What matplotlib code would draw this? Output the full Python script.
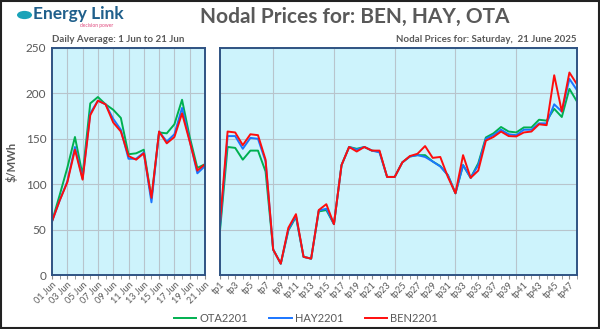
import matplotlib
matplotlib.use("Agg")
import matplotlib.pyplot as plt
from matplotlib.patches import Rectangle, Circle

plt.rcParams['font.family'] = ['Lato', 'DejaVu Sans']

# daily averages, 1 Jun to 21 Jun
days = ["%02d Jun" % d for d in range(1, 22)]
ota_daily = [59, 88, 118, 152, 110, 189, 196, 188, 182, 173, 133, 134, 138, 84, 157, 156, 166, 193, 152, 118, 122]
hay_daily = [59, 82, 103, 141, 106, 178, 192, 188, 172, 160, 128, 128, 135, 80, 158, 147, 155, 184, 148, 112, 120]
ben_daily = [59, 82, 102, 138, 105, 176, 192, 188, 168, 158, 131, 127, 134, 85, 158, 145, 152, 178, 147, 115, 122]

# trading periods, 21 June 2025
periods = ["tp%d" % i for i in range(1, 49)]
ota_tp = [49, 141, 140, 127, 137, 137, 114, 28, 12.5, 49, 64, 20, 18, 70, 71.5, 56, 121, 141, 139, 141, 137, 136, 108, 108,
          124, 130.5, 132, 132, 125, 120, 110, 90, 121, 107, 123, 151.5, 156, 163, 158, 157, 162.5, 162.5, 171, 170,
          183, 174, 205, 191]
hay_tp = [53, 153, 153, 139, 151, 150, 125, 28, 12.5, 50, 65, 20, 18, 71, 73, 56, 121, 141, 138, 141, 137, 135, 108, 108,
          124, 130.5, 132, 130, 125, 119.5, 110, 90, 121, 107, 121, 150, 154, 160, 155, 154, 160, 160, 167, 167,
          188, 180, 216, 203.5]
ben_tp = [57, 158, 157, 143, 155, 154, 127, 28, 12.5, 52, 67, 20, 18, 71.5, 78, 56, 121, 141, 136, 141, 137, 137, 108, 108,
          124, 131, 133.5, 142, 129, 130, 108, 90, 132, 107, 115, 148, 152, 158, 153, 152.6, 157, 158, 166, 165,
          220, 180, 223, 210]

names = ["OTA2201", "HAY2201", "BEN2201"]
colors = ["#00b050", "#1a75ff", "#ff0d0d"]
grey = "#595959"

fig = plt.figure(figsize=(6.0, 3.29), dpi=100)
W, H = 600.0, 329.0


def box(x0, x1, y0, y1):
    return [x0 / W, 1 - y1 / H, (x1 - x0) / W, (y1 - y0) / H]


ax1 = fig.add_axes(box(52, 205, 48, 275))
ax2 = fig.add_axes(box(220, 577, 48, 275))

for ax in (ax1, ax2):
    ax.set_facecolor("#cdf3fc")
    ax.set_ylim(0, 250)
    ax.set_yticks(range(0, 251, 50))
    ax.grid(True, color="#b8c4cc", linewidth=0.8)
    ax.set_axisbelow(True)
    for s in ax.spines.values():
        s.set_color("#2f5383")
        s.set_linewidth(1.4)
    ax.tick_params(axis="x", labelsize=6.5, labelcolor=grey, colors="#8c8c8c", length=3, pad=1)
    ax.tick_params(axis="y", labelsize=8.5, labelcolor=grey, length=0, pad=4)

x1 = list(range(len(days)))
for vals, c in zip([ota_daily, hay_daily, ben_daily], colors):
    ax1.plot(x1, vals, color=c, linewidth=1.4)
ax1.set_xlim(0, len(days) - 1)
ax1.set_xticks(x1, minor=True)
ax1.set_xticks(x1[::2])
ax1.set_xticklabels(days[::2], rotation=45, ha="right", rotation_mode="anchor")
ax1.tick_params(axis="x", which="minor", length=3, colors="#8c8c8c")
ax1.grid(False, axis="x")
for xv in x1[2::2]:
    ax1.axvline(xv, color="#b8c4cc", linewidth=0.8, zorder=0.5)
ax1.set_ylabel("$/MWh", color=grey, fontsize=8, fontweight="bold", labelpad=6)

x2 = list(range(len(periods)))
lines = []
for vals, c, n in zip([ota_tp, hay_tp, ben_tp], colors, names):
    ln, = ax2.plot(x2, vals, color=c, linewidth=1.4, label=n)
    lines.append(ln)
ax2.set_xlim(0, len(periods) - 1)
ax2.set_xticks(x2, minor=True)
ax2.set_xticks(x2[::2])
ax2.set_xticklabels(periods[::2], rotation=45, ha="right", rotation_mode="anchor")
ax2.tick_params(axis="x", which="minor", length=3, colors="#8c8c8c")
ax2.tick_params(axis="y", labelleft=False)
ax2.grid(False, axis="x")
for xv in x2[7::8]:
    ax2.axvline(xv, color="#b8c4cc", linewidth=0.8, zorder=0.5)

# titles
fig.text(355 / W, 1 - 17 / H, "Nodal Prices for: BEN, HAY, OTA", ha="center", va="center",
         fontsize=15, fontweight="bold", color=grey)
fig.text(52 / W, 1 - 40 / H, "Daily Average: 1 Jun to 21 Jun", ha="left", va="center",
         fontsize=7, fontweight="bold", color=grey)
fig.text(577 / W, 1 - 40 / H, "Nodal Prices for: Saturday,  21 June 2025", ha="right", va="center",
         fontsize=7, fontweight="bold", color=grey)

# logo
fig.patches.append(Circle((24.5 / W, 1 - 15 / H), 7.5 / W, transform=fig.transFigure,
                          facecolor="#1aa3b8", edgecolor="none"))
fig.text(33 / W, 1 - 14.5 / H, "Energy Link", ha="left", va="center", fontsize=12.5,
         fontweight="bold", color="#1f5f8b")
fig.text(97 / W, 1 - 25 / H, "decision power", ha="center", va="center", fontsize=3.5, color="#e0457b")

fig.legend(handles=lines, loc="center", bbox_to_anchor=(306 / W, 1 - 318 / H), ncol=3, frameon=False,
           fontsize=8, labelcolor=grey, handlelength=2.0, columnspacing=1.9, handletextpad=0.3)

fig.patches.append(Rectangle((0.002, 0.003), 0.996, 0.994, transform=fig.transFigure,
                             fill=False, edgecolor="#222222", linewidth=1.5))

fig.savefig("out.png", dpi=100)
